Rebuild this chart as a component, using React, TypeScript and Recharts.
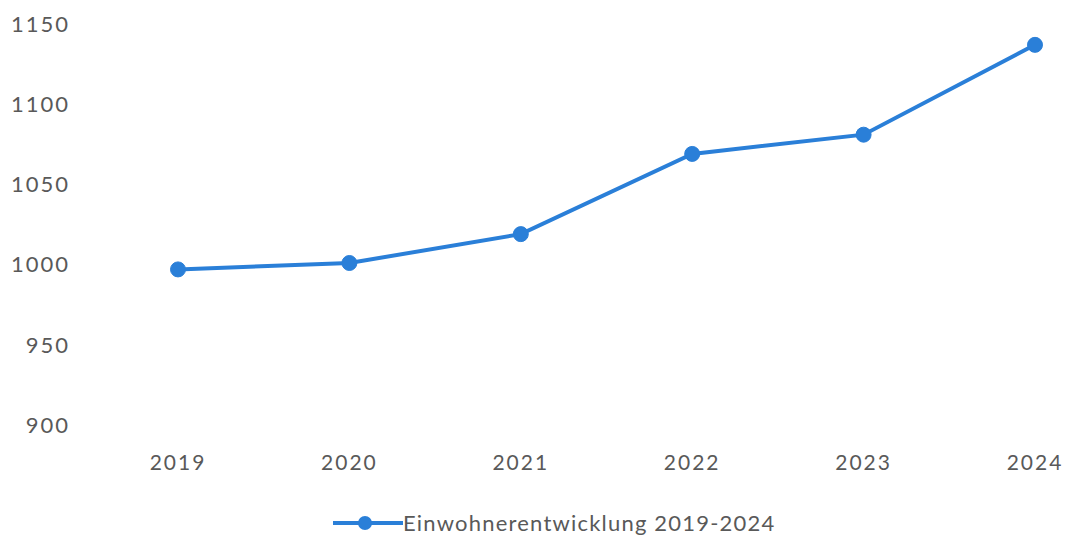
import { LineChart, Line, XAxis, YAxis, Legend } from 'recharts'

const YEARS = ['2019', '2020', '2021', '2022', '2023', '2024']
const EINWOHNER = [997, 1001, 1019, 1069, 1081, 1137]
const Y_TICKS = [900, 950, 1000, 1050, 1100, 1150]
const SERIES_NAME = 'Einwohnerentwicklung 2019-2024'

const BLUE = '#2a7fd8'
const FONT = 'Lato, "Open Sans", sans-serif'

const data = YEARS.map((year, i) => ({ year, value: EINWOHNER[i] }))

function LegendContent() {
  return (
    <div style={{ display: 'flex', alignItems: 'center', paddingLeft: 333, fontFamily: FONT }}>
      <svg width={70} height={20}>
        <line x1={0} y1={10} x2={70} y2={10} stroke={BLUE} strokeWidth={4} />
        <circle cx={32} cy={10} r={7} fill={BLUE} />
      </svg>
      <span style={{ fontSize: 22, color: '#595959', letterSpacing: 1.2 }}>{SERIES_NAME}</span>
    </div>
  )
}

export default function App() {
  return (
    <div style={{ position: 'absolute', left: 0, top: 0, width: 1065, height: 535, background: '#fff' }}>
      <LineChart width={1065} height={535} data={data} margin={{ top: 24, right: 0, bottom: 4, left: 0 }}>
        <XAxis
          dataKey="year"
          axisLine={false}
          tickLine={false}
          padding={{ left: 100, right: 30 }}
          tick={{ fontSize: 21, fill: '#595959', fontFamily: FONT, letterSpacing: 2 }}
          tickMargin={24}
          height={60}
        />
        <YAxis
          domain={[900, 1150]}
          ticks={Y_TICKS}
          axisLine={false}
          tickLine={false}
          width={78}
          tick={{ fontSize: 22, fill: '#595959', fontFamily: FONT, letterSpacing: 2 }}
        />
        <Legend
          verticalAlign="bottom"
          height={46}
          wrapperStyle={{ top: 509, left: 0, width: 1065 }}
          content={<LegendContent />}
        />
        <Line
          dataKey="value"
          name={SERIES_NAME}
          stroke={BLUE}
          strokeWidth={4}
          dot={{ r: 7.5, fill: BLUE, stroke: BLUE, strokeWidth: 1 }}
          isAnimationActive={false}
        />
      </LineChart>
    </div>
  )
}
